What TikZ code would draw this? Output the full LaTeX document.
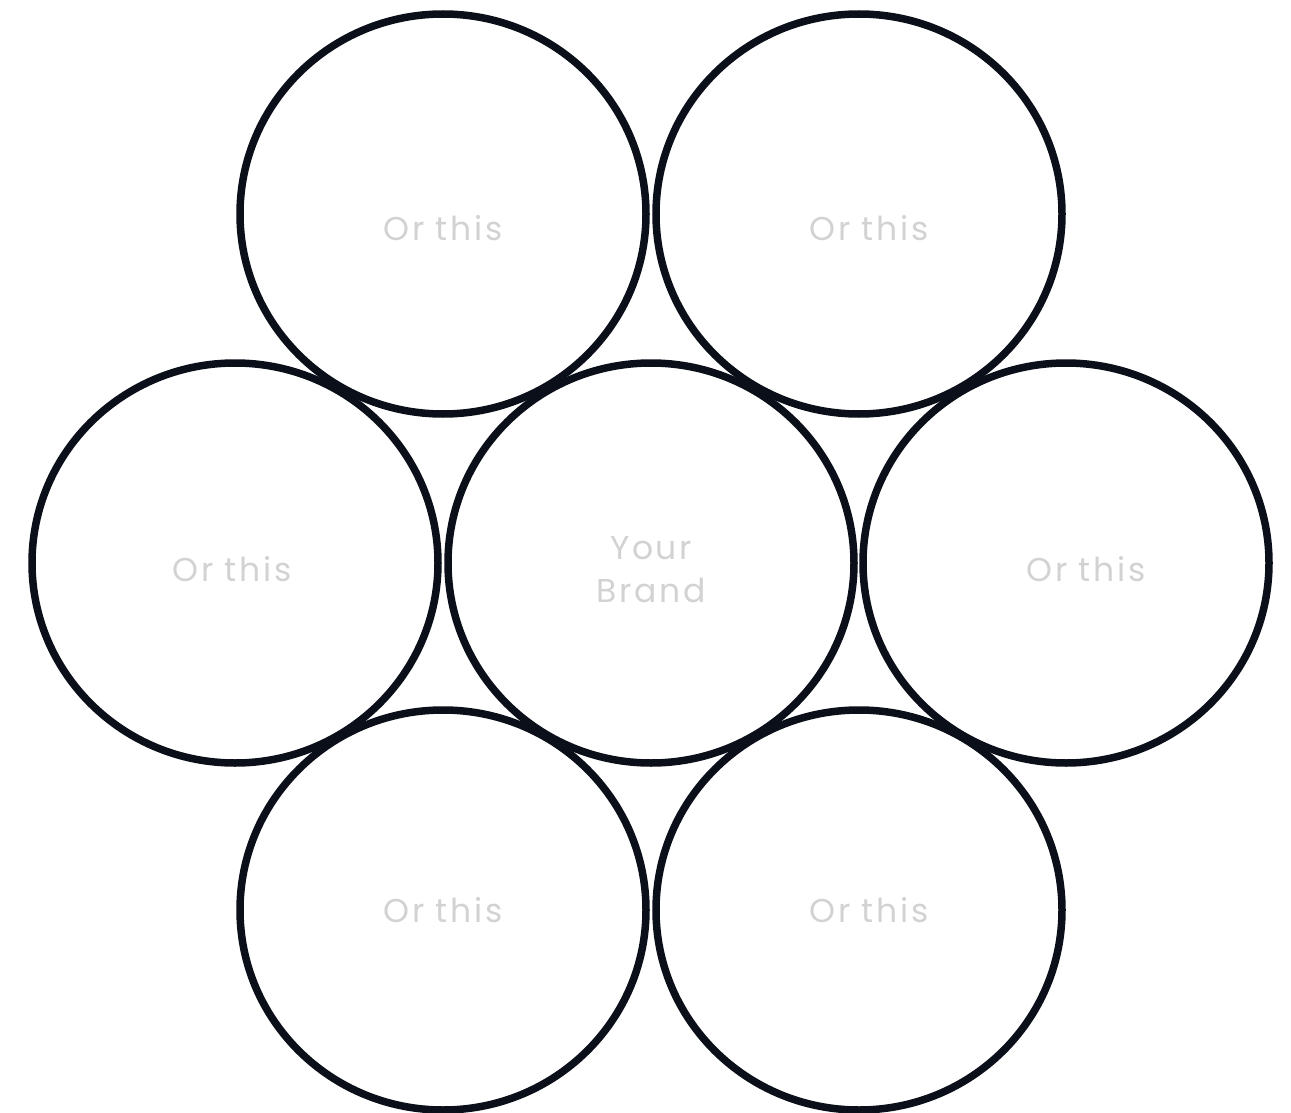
\documentclass[tikz,border=0pt]{standalone}
\usepackage{fontspec}
\setmainfont{Poppins}[LetterSpace=8]
\usetikzlibrary{shapes.geometric}
\definecolor{ringc}{HTML}{0B0F19}
\definecolor{txtc}{HTML}{D2D2D2}
\tikzset{
  ring/.style={ellipse, draw=ringc, line width=7.5pt, minimum width=406pt, minimum height=400pt, inner sep=0pt},
  lbl/.style={text=txtc, font=\fontsize{33}{43}\selectfont, anchor=base, inner sep=0pt, align=center}
}
\begin{document}
\begin{tikzpicture}[x=1pt,y=-1pt]
\useasboundingbox (0,0) rectangle (1291,1113);
\node[ring] (tl) at (443,214) {};
\node[ring] (tr) at (859,214) {};
\node[ring] (ml) at (235,563) {};
\node[ring] (mc) at (651,563) {};
\node[ring] (mr) at (1066,563) {};
\node[ring] (bl) at (443,910) {};
\node[ring] (br) at (859,910) {};
\node[lbl] (ttl) at (443,240) {Or this};
\node[lbl] (ttr) at (869,240) {Or this};
\node[lbl] (tml) at (232,581) {Or this};
\node[lbl] (tmr) at (1086,581) {Or this};
\node[lbl] (tmc1) at (651,559) {Your};
\node[lbl] (tmc2) at (651,602) {Brand};
\node[lbl] (tbl) at (443,922) {Or this};
\node[lbl] (tbr) at (869,922) {Or this};
\end{tikzpicture}
\end{document}
